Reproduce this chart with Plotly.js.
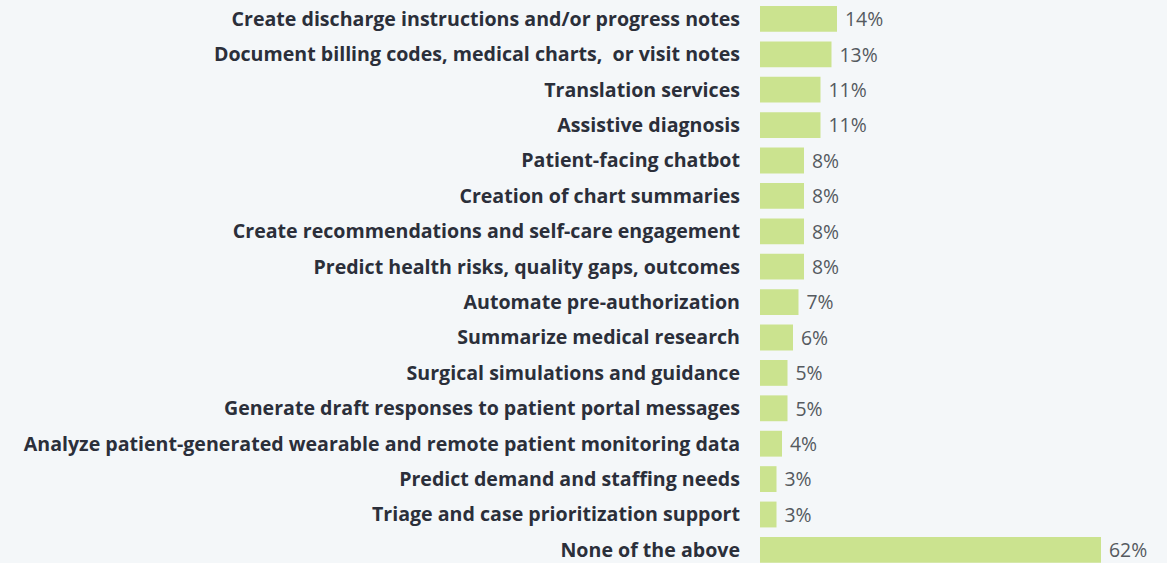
<!DOCTYPE html>
<html>
<head>
<meta charset="utf-8">
<script src="https://cdn.plot.ly/plotly-3.0.1.min.js"></script>
<style>
html,body{margin:0;padding:0;background:#f4f7f9;}
#chart{width:1167px;height:563px;}
</style>
</head>
<body>
<div id="chart"></div>
<script>
const categories = [
  "Create discharge instructions and/or progress notes",
  "Document billing codes, medical charts,  or visit notes",
  "Translation services",
  "Assistive diagnosis",
  "Patient-facing chatbot",
  "Creation of chart summaries",
  "Create recommendations and self-care engagement",
  "Predict health risks, quality gaps, outcomes",
  "Automate pre-authorization",
  "Summarize medical research",
  "Surgical simulations and guidance",
  "Generate draft responses to patient portal messages",
  "Analyze patient-generated wearable and remote patient monitoring data",
  "Predict demand and staffing needs",
  "Triage and case prioritization support",
  "None of the above"
];
const values = [14, 13, 11, 11, 8, 8, 8, 8, 7, 6, 5, 5, 4, 3, 3, 62];

const trace = {
  type: 'bar',
  orientation: 'h',
  y: categories,
  x: values,
  marker: {color: '#cbe38f'},
  text: values.map(v => '\u00a0' + v + '%'),
  textposition: 'outside',
  cliponaxis: false,
  textfont: {family: 'Open Sans, sans-serif', size: 21, color: '#555a60'},
  hoverinfo: 'none'
};

const layout = {
  width: 1167,
  height: 563,
  margin: {l: 760, r: 0, t: 0, b: 0, pad: 0},
  paper_bgcolor: '#f4f7f9',
  plot_bgcolor: '#f4f7f9',
  showlegend: false,
  bargap: 0.27,
  xaxis: {
    range: [0, 74],
    autorange: false,
    showgrid: false,
    zeroline: false,
    showticklabels: false,
    showline: false,
    fixedrange: true
  },
  yaxis: {
    type: 'category',
    range: [15.37, -0.534],
    autorange: false,
    showgrid: false,
    zeroline: false,
    showline: false,
    ticks: '',
    ticklabelstandoff: 19,
    tickfont: {family: 'Open Sans, sans-serif', size: 19.6, color: '#2b2f3a', weight: 'bold'},
    fixedrange: true
  }
};

Plotly.newPlot('chart', [trace], layout, {displayModeBar: false, staticPlot: true});
</script>
</body>
</html>
